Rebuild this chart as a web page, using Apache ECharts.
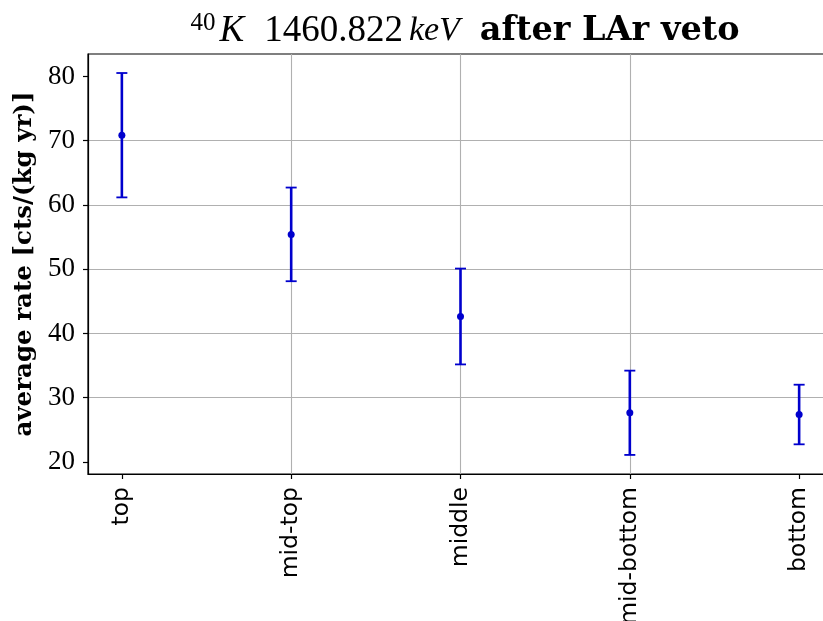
<!DOCTYPE html>
<html>
<head>
<meta charset="utf-8">
<script src="https://cdn.jsdelivr.net/npm/echarts@6/dist/echarts.min.js"></script>
<style>
  html, body { margin: 0; padding: 0; background: #fff; }
  #chart { width: 823px; height: 621px; }
</style>
</head>
<body>
<div id="chart"></div>
<script>
// Detector positions along the string
const categories = ['top', 'mid-top', 'middle', 'mid-bottom', 'bottom'];
// Average rate and its uncertainty, cts/(kg yr)
const rates = [70.86, 55.42, 42.64, 27.65, 27.38];
const errors = [9.68, 7.29, 7.46, 6.56, 4.64];
// Labelled y ticks
const yTicks = [20, 30, 40, 50, 60, 70, 80];
const xTicks = categories.map((c, i) => i);

const blue = '#0000cd';
const serif = '"Liberation Serif", "DejaVu Serif", serif';
const boldSerif = '"DejaVu Serif", "Liberation Serif", serif';

const pointData = rates.map((v, i) => [i, v]);
const barData = rates.map((v, i) => [i, v, errors[i]]);

const chart = echarts.init(document.getElementById('chart'), null, { renderer: 'canvas' });

chart.setOption({
  animation: false,
  backgroundColor: '#ffffff',
  title: {
    left: 460,
    textAlign: 'center',
    top: 6,
    text: '{sup|40}{it|K}{rm|1460.822}{kev|keV}{bf|after LAr veto}',
    textStyle: {
      fontWeight: 'normal',
      rich: {
        sup: { fontFamily: serif, fontWeight: 'normal', fontSize: 25, color: '#000', verticalAlign: 'top', padding: [0, 4, 16, 0] },
        it: { fontFamily: serif, fontWeight: 'normal', fontStyle: 'italic', fontSize: 37, color: '#000', padding: [0, 20, 0, 0] },
        rm: { fontFamily: serif, fontWeight: 'normal', fontSize: 37, color: '#000', padding: [0, 6, 0, 0] },
        kev: { fontFamily: serif, fontWeight: 'normal', fontStyle: 'italic', fontSize: 34, color: '#000', padding: [0, 20, 0, 0] },
        bf: { fontFamily: boldSerif, fontWeight: 'bold', fontSize: 33.5, color: '#000' }
      }
    }
  },
  grid: {
    left: 88,
    top: 54,
    width: 745,
    height: 420,
    outerBoundsMode: 'none',
    containLabel: false,
    show: true,
    borderColor: '#000',
    borderWidth: 1.2,
    backgroundColor: 'transparent'
  },
  xAxis: {
    type: 'value',
    min: -0.2,
    max: 4.2,
    splitNumber: 5,
    axisLine: { show: true, onZero: false, lineStyle: { color: '#000', width: 1.2 } },
    axisTick: { show: true, length: 5, customValues: xTicks, lineStyle: { color: '#000', width: 1.2 } },
    axisLabel: {
      customValues: xTicks,
      rotate: 90,
      margin: 13,
      fontFamily: '"DejaVu Sans", sans-serif',
      fontSize: 23.5,
      color: '#000',
      formatter: v => categories[Math.round(v)]
    },
    splitLine: { show: true, showMinLine: false, showMaxLine: false, lineStyle: { color: '#b0b0b0', width: 1.1 } }
  },
  yAxis: {
    type: 'value',
    min: 18.12,
    max: 83.5,
    splitNumber: 7,
    name: 'average rate [cts/(kg yr)]',
    nameLocation: 'middle',
    nameGap: 50,
    nameTextStyle: { fontFamily: boldSerif, fontWeight: 'bold', fontSize: 24.5, color: '#000' },
    axisLine: { show: true, onZero: false, lineStyle: { color: '#000', width: 1.2 } },
    axisTick: { show: true, length: 5, customValues: yTicks, lineStyle: { color: '#000', width: 1.2 } },
    axisLabel: {
      customValues: yTicks,
      margin: 13,
      fontFamily: serif,
      fontWeight: 'normal',
      fontSize: 27,
      color: '#000'
    },
    splitLine: { show: true, showMinLine: false, showMaxLine: false, lineStyle: { color: '#b0b0b0', width: 1.1 } }
  },
  series: [
    {
      type: 'custom',
      data: barData,
      z: 3,
      renderItem: function (params, api) {
        const x = api.value(0), y = api.value(1), e = api.value(2);
        const hi = api.coord([x, y + e]);
        const lo = api.coord([x, y - e]);
        const cap = 5.5;
        const style = { stroke: blue, lineWidth: 2.6 };
        const capStyle = { stroke: blue, lineWidth: 1.8 };
        return {
          type: 'group',
          children: [
            { type: 'line', shape: { x1: hi[0], y1: hi[1], x2: lo[0], y2: lo[1] }, style: style },
            { type: 'line', shape: { x1: hi[0] - cap, y1: hi[1], x2: hi[0] + cap, y2: hi[1] }, style: capStyle },
            { type: 'line', shape: { x1: lo[0] - cap, y1: lo[1], x2: lo[0] + cap, y2: lo[1] }, style: capStyle }
          ]
        };
      }
    },
    {
      type: 'scatter',
      data: pointData,
      z: 4,
      symbol: 'circle',
      symbolSize: 7,
      itemStyle: { color: blue, opacity: 1 }
    }
  ]
});
</script>
</body>
</html>
